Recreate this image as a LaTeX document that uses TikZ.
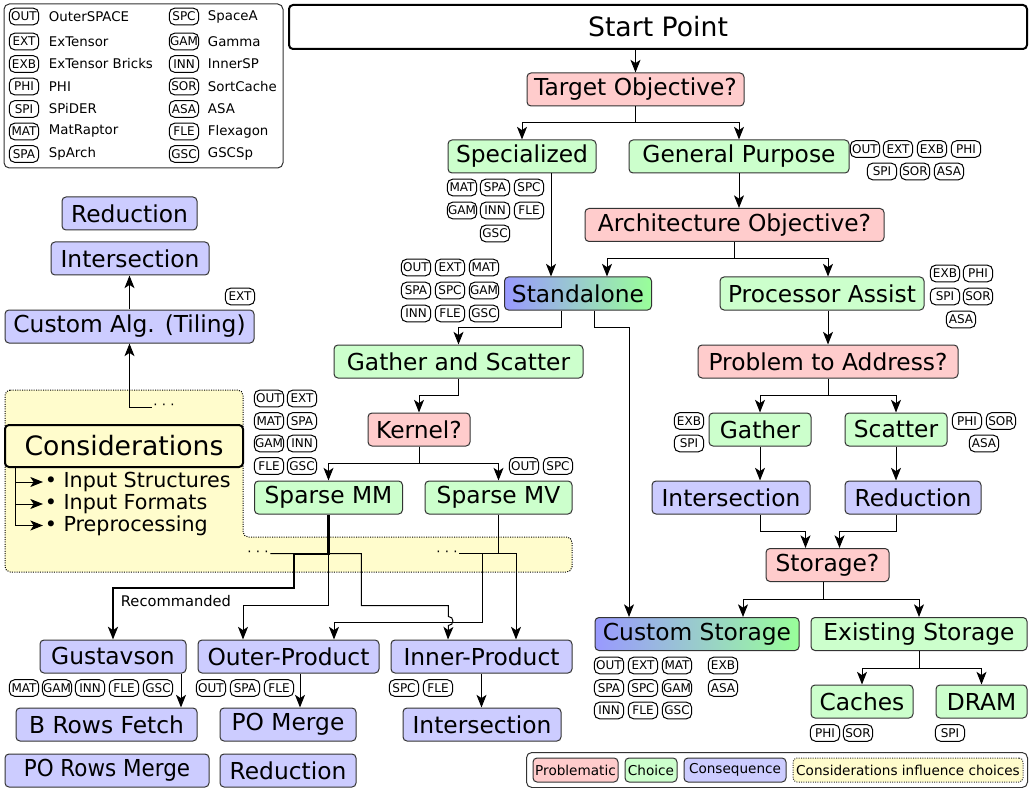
\documentclass[tikz,border=0pt]{standalone}
\usepackage{fontspec}
\setmainfont{DejaVu Sans}
\usetikzlibrary{arrows.meta, calc, positioning}

\begin{document}
\begin{tikzpicture}[x = 0.75pt, y = -0.75pt, line width = 0.75pt, >={Stealth[length=9.5pt, width=7.5pt, inset=2.5pt]},
    caja/.style = {draw = black!80, rounded corners = 3pt, minimum height = 24.75pt, inner xsep = 3pt, font = \fontsize{17.5}{20}\selectfont},
    prob/.style = {caja, fill = red!20},
    elec/.style = {caja, fill = green!20},
    cons/.style = {caja, fill = blue!20},
    mixta/.style = {caja, left color = blue!40, right color = green!40},
    etiq/.style = {draw = black, rounded corners = 4pt, minimum width = 22pt, minimum height = 12.5pt, inner sep = 0.3pt, font = \fontsize{9}{9}\selectfont},
    leyenda/.style = {draw = black!80, rounded corners = 3pt, minimum height = 18pt, inner xsep = 1pt, font = \fontsize{10.2}{12}\selectfont},
    puntos/.style = {inner sep = 1pt, font = \fontsize{10}{10}\selectfont}]
    \useasboundingbox (0,0) rectangle (1029,788);

    % Zona amarilla de las consideraciones (va al fondo).
    \draw[densely dotted, fill = yellow!20, rounded corners = 4pt] (5,390) -- (243,390) -- (243,537) -- (572,537) -- (572,572) -- (5,572) -- cycle;

    % Leyenda de arquitecturas:
    \draw[draw = black!80, rounded corners = 4pt] (4,4) rectangle (283,168);
    \node[etiq] (kOUT) at (24,16.5) {OUT};
    \node[anchor = west, font = \fontsize{10}{12}\selectfont] (nOUT) at (44,16.5) {OuterSPACE};
    \node[etiq] (kEXT) at (24,41.5) {EXT};
    \node[anchor = west, font = \fontsize{10}{12}\selectfont] (nEXT) at (44,41.5) {ExTensor};
    \node[etiq] (kEXB) at (24,64) {EXB};
    \node[anchor = west, font = \fontsize{10}{12}\selectfont] (nEXB) at (44,64) {ExTensor Bricks};
    \node[etiq] (kPHI) at (24,86.5) {PHI};
    \node[anchor = west, font = \fontsize{10}{12}\selectfont] (nPHI) at (44,86.5) {PHI};
    \node[etiq] (kSPI) at (24,109) {SPI};
    \node[anchor = west, font = \fontsize{10}{12}\selectfont] (nSPI) at (44,109) {SPiDER};
    \node[etiq] (kMAT) at (24,131.5) {MAT};
    \node[anchor = west, font = \fontsize{10}{12}\selectfont] (nMAT) at (44,131.5) {MatRaptor};
    \node[etiq] (kSPA) at (24,154) {SPA};
    \node[anchor = west, font = \fontsize{10}{12}\selectfont] (nSPA) at (44,154) {SpArch};
    \node[etiq] (kSPC) at (184,16.5) {SPC};
    \node[anchor = west, font = \fontsize{10}{12}\selectfont] (nSPC) at (203,16.5) {SpaceA};
    \node[etiq] (kGAM) at (184,41.5) {GAM};
    \node[anchor = west, font = \fontsize{10}{12}\selectfont] (nGAM) at (203,41.5) {Gamma};
    \node[etiq] (kINN) at (184,64) {INN};
    \node[anchor = west, font = \fontsize{10}{12}\selectfont] (nINN) at (203,64) {InnerSP};
    \node[etiq] (kSOR) at (184,86.5) {SOR};
    \node[anchor = west, font = \fontsize{10}{12}\selectfont] (nSOR) at (203,86.5) {SortCache};
    \node[etiq] (kASA) at (184,109) {ASA};
    \node[anchor = west, font = \fontsize{10}{12}\selectfont] (nASA) at (203,109) {ASA};
    \node[etiq] (kFLE) at (184,131.5) {FLE};
    \node[anchor = west, font = \fontsize{10}{12}\selectfont] (nFLE) at (203,131.5) {Flexagon};
    \node[etiq] (kGSC) at (184,154) {GSC};
    \node[anchor = west, font = \fontsize{10}{12}\selectfont] (nGSC) at (203,154) {GSCSp};

    % Nodos principales del arbol:
    \node[caja, draw = black, line width = 1.5pt, fill = white, minimum width = 553.5pt, minimum height = 33pt, font = \fontsize{20}{24}\selectfont] (start) at (658,27) {Start Point};
    \node[prob, minimum width = 162.75pt] (target) at (635.5,89.5) {Target Objective?};
    \node[elec, minimum width = 111pt] (spec) at (522,156.5) {Specialized};
    \node[elec, minimum width = 165pt] (general) at (739,156.5) {General Purpose};
    \node[prob, minimum width = 224.25pt] (archobj) at (734.5,225) {Architecture Objective?};
    \node[mixta, minimum width = 110.25pt] (stand) at (578,293.5) {Standalone};
    \node[elec, minimum width = 153pt] (procas) at (822,293.5) {Processor Assist};
    \node[elec, minimum width = 186.75pt] (gathsc) at (458.5,361.5) {Gather and Scatter};
    \node[prob, minimum width = 195pt] (problem) at (828,361.5) {Problem to Address?};
    \node[prob, minimum width = 76.5pt] (kernel) at (419,429.5) {Kernel?};
    \node[elec, minimum width = 76.5pt] (gather) at (760,429.5) {Gather};
    \node[elec, minimum width = 76.5pt] (scatter) at (896,429.5) {Scatter};
    \node[elec, minimum width = 111pt] (smm) at (328.5,497.5) {Sparse MM};
    \node[elec, minimum width = 110.25pt] (smv) at (498.5,497.5) {Sparse MV};
    \node[cons, minimum width = 118.5pt] (interR) at (731,497.5) {Intersection};
    \node[cons, minimum width = 102pt] (reducR) at (913,497.5) {Reduction};
    \node[prob, minimum width = 92.25pt] (storage) at (827.5,565) {Storage?};
    \node[mixta, minimum width = 153pt] (custstor) at (697,634) {Custom Storage};
    \node[elec, minimum width = 162pt] (existstor) at (919,634) {Existing Storage};
    \node[elec, minimum width = 76.5pt] (caches) at (862,701.5) {Caches};
    \node[elec, minimum width = 68.25pt] (dram) at (981.5,701.5) {DRAM};

    % Consecuencias del lado izquierdo y de abajo.
    \node[cons, minimum width = 101.25pt] (reducL) at (129.5,213.5) {Reduction};
    \node[cons, minimum width = 118.5pt] (interL) at (130,258.5) {Intersection};
    \node[cons, minimum width = 186.75pt] (customalg) at (129.5,326.5) {Custom Alg. (Tiling)};
    \node[cons, minimum width = 109.5pt] (gustav) at (113,656.5) {Gustavson};
    \node[cons, minimum width = 135.75pt] (outerp) at (288.5,656.5) {Outer-Product};
    \node[cons, minimum width = 135.75pt] (innerp) at (481.5,656.5) {Inner-Product};
    \node[cons, minimum width = 135.75pt] (browsf) at (106.5,724.5) {B Rows Fetch};
    \node[cons, minimum width = 102pt] (pomerge) at (288,724.5) {PO Merge};
    \node[cons, minimum width = 118.5pt] (interB) at (482,724.5) {Intersection};
    \node[cons, minimum width = 153pt] (porows) at (107,770.5) {\scalebox{0.92}[1]{PO Rows Merge}};
    \node[cons, minimum width = 102pt] (reducB) at (288,770.5) {Reduction};

    % Consideraciones:
    \node[caja, draw = black, line width = 1.5pt, fill = yellow!20, minimum width = 178.5pt, minimum height = 31.5pt, font = \fontsize{20}{24}\selectfont] (consid) at (124,446) {Considerations};
    \node[anchor = west, inner xsep = 1pt, font = \fontsize{15.5}{17}\selectfont] (itemA) at (43,482) {•~Input Structures};
    \node[anchor = west, inner xsep = 1pt, font = \fontsize{15.5}{17}\selectfont] (itemB) at (43,504) {•~Input Formats};
    \node[anchor = west, inner xsep = 1pt, font = \fontsize{15.5}{17}\selectfont] (itemC) at (43,525.5) {•~Preprocessing};
    \draw[->] ($(consid.south west)+(11,0)$) |- (itemA.west);
    \draw[->] ($(consid.south west)+(11,0)$) |- (itemB.west);
    \draw[->] ($(consid.south west)+(11,0)$) |- (itemC.west);
    \node[puntos] (dotsA) at (164,407) {· · ·};
    \node[puntos] (dotsB) at (258,553.5) {· · ·};
    \node[puntos] (dotsC) at (447,553.5) {· · ·};

    % Etiquetas de cada opcion.
    \node[etiq] (gpOUT) at (865,149) {OUT};
    \node[etiq] (gpEXT) at (898,149) {EXT};
    \node[etiq] (gpEXB) at (932,149) {EXB};
    \node[etiq] (gpPHI) at (966,149) {PHI};
    \node[etiq] (gpSPI) at (882,171.5) {SPI};
    \node[etiq] (gpSOR) at (915,171.5) {SOR};
    \node[etiq] (gpASA) at (949,171.5) {ASA};

    \node[etiq] (spMAT) at (462,187.5) {MAT};
    \node[etiq] (spSPA) at (495,187.5) {SPA};
    \node[etiq] (spSPC) at (529,187.5) {SPC};
    \node[etiq] (spGAM) at (462,210.5) {GAM};
    \node[etiq] (spINN) at (495,210.5) {INN};
    \node[etiq] (spFLE) at (529,210.5) {FLE};
    \node[etiq] (spGSC) at (495,233.5) {GSC};

    \node[etiq] (stOUT) at (416,267.5) {OUT};
    \node[etiq] (stEXT) at (450,267.5) {EXT};
    \node[etiq] (stMAT) at (484,267.5) {MAT};
    \node[etiq] (stSPA) at (416,290.5) {SPA};
    \node[etiq] (stSPC) at (450,290.5) {SPC};
    \node[etiq] (stGAM) at (484,290.5) {GAM};
    \node[etiq] (stINN) at (416,313.5) {INN};
    \node[etiq] (stFLE) at (450,313.5) {FLE};
    \node[etiq] (stGSC) at (484,313.5) {GSC};

    \node[etiq] (paEXB) at (945,273.5) {EXB};
    \node[etiq] (paPHI) at (978,273.5) {PHI};
    \node[etiq] (paSPI) at (945,296.5) {SPI};
    \node[etiq] (paSOR) at (978,296.5) {SOR};
    \node[etiq] (paASA) at (961,319.5) {ASA};

    \node[etiq] (knOUT) at (269,398.5) {OUT};
    \node[etiq] (knEXT) at (302,398.5) {EXT};
    \node[etiq] (knMAT) at (269,421) {MAT};
    \node[etiq] (knSPA) at (302,421) {SPA};
    \node[etiq] (knGAM) at (269,443.5) {GAM};
    \node[etiq] (knINN) at (302,443.5) {INN};
    \node[etiq] (knFLE) at (269,466) {FLE};
    \node[etiq] (knGSC) at (302,466) {GSC};
    \node[etiq] (mvOUT) at (524,466) {OUT};
    \node[etiq] (mvSPC) at (558,466) {SPC};

    \node[etiq] (gaEXB) at (689,421) {EXB};
    \node[etiq] (gaSPI) at (689,443.5) {SPI};
    \node[etiq] (scPHI) at (967,421) {PHI};
    \node[etiq] (scSOR) at (1001,421) {SOR};
    \node[etiq] (scASA) at (984,443.5) {ASA};

    \node[etiq] (csOUT) at (609,665.5) {OUT};
    \node[etiq] (csEXT) at (643,665.5) {EXT};
    \node[etiq] (csMAT) at (677,665.5) {MAT};
    \node[etiq] (csEXB) at (723,665.5) {EXB};
    \node[etiq] (csSPA) at (609,688) {SPA};
    \node[etiq] (csSPC) at (643,688) {SPC};
    \node[etiq] (csGAM) at (677,688) {GAM};
    \node[etiq] (csASA) at (723,688) {ASA};
    \node[etiq] (csINN) at (609,710.5) {INN};
    \node[etiq] (csFLE) at (643,710.5) {FLE};
    \node[etiq] (csGSC) at (677,710.5) {GSC};
    \node[etiq] (caPHI) at (825,733) {PHI};
    \node[etiq] (caSOR) at (858,733) {SOR};
    \node[etiq] (drSPI) at (950,733) {SPI};

    \node[etiq] (alEXT) at (240,296.5) {EXT};
    \node[etiq] (guMAT) at (24,688) {MAT};
    \node[etiq] (guGAM) at (57,688) {GAM};
    \node[etiq] (guINN) at (90,688) {INN};
    \node[etiq] (guFLE) at (124,688) {FLE};
    \node[etiq] (guGSC) at (158,688) {GSC};
    \node[etiq] (opOUT) at (211,688) {OUT};
    \node[etiq] (opSPA) at (245,688) {SPA};
    \node[etiq] (opFLE) at (279,688) {FLE};
    \node[etiq] (ipSPC) at (404,688) {SPC};
    \node[etiq] (ipFLE) at (438,688) {FLE};

    % Conexiones de arriba hacia abajo.
    \draw[->] (start.south -| target.north) -- (target.north);
    \draw[->] (target.south) -- ++(0,16) -| (spec.north);
    \draw[->] (target.south) -- ++(0,16) -| (general.north);
    \draw[->] (general.south) -- (general.south |- archobj.north);
    \coordinate (sA) at ($(stand.north)+(-27,0)$);
    \draw[->] (spec.south -| sA) -- (sA);
    \draw[->] (archobj.south) -- ++(0,17) -| ($(stand.north)+(29,0)$);
    \draw[->] (archobj.south) -- ++(0,17) -| (procas.north -| problem.north);
    \draw[->] (procas.south -| problem.north) -- (problem.north);
    \draw[->] ($(stand.south)+(-16.5,0)$) -- ++(0,16.5) -| (gathsc.north);
    \draw[->] ($(stand.south)+(16,0)$) -- ++(0,16.5) -| ($(custstor.north)+(-68,0)$);
    \draw[->] (gathsc.south) -- ++(0,17) -| (kernel.north);
    \draw[->] (kernel.south) -- ++(0,17) -| (smm.north);
    \draw[->] (kernel.south) -- ++(0,17) -| (smv.north);
    \draw[->] (problem.south) -- ++(0,17) -| (gather.north);
    \draw[->] (problem.south) -- ++(0,17) -| (scatter.north);
    \draw[->] (gather.south) -- (gather.south |- interR.north);
    \draw[->] (scatter.south) -- (scatter.south |- reducR.north);
    \draw[->] (interR.south -| gather.south) -- ++(0,17) -| ($(storage.north)+(-22,0)$);
    \draw[->] (reducR.south -| scatter.south) -- ++(0,17) -| ($(storage.north)+(12,0)$);
    \draw[->] ($(storage.south)+(-4.5,0)$) -- ++(0,17) -| ($(custstor.north)+(46,0)$);
    \draw[->] ($(storage.south)+(-4.5,0)$) -- ++(0,17) -| (existstor.north);
    \draw[->] (existstor.south) -- ++(0,17) -| (caches.north);
    \draw[->] (existstor.south) -- ++(0,17) -| (dram.north);

    % Lado izquierdo:
    \draw[->] (dotsA.west) -| (customalg.south);
    \draw[->] (customalg.north) -- (customalg.north |- interL.south);

    % Kernels hacia los algoritmos.
    \draw[->] (smm.south) -- ++(0,91) -| ($(outerp.north)+(-45.5,0)$);
    \draw[->] (dotsB.east) -- ++(91,0) -- ++(0,52) -- ++(87,0) -- ++(0,11) .. controls +(6,0) and +(6,0) .. ++(0,9) -- ($(innerp.north)+(-33.5,0)$);
    \draw (smv.south) -- ++(0,39.5);
    \draw[->] (dotsC.east) -| ($(innerp.north)+(34.5,0)$);
    \draw[->] ($(smv.south)+(-16.5,39.5)$) |- ++(-148,68) -- ($(outerp.north)+(45.5,0)$);
    \draw[->, line width = 2pt] (smm.south) -- ++(0,39.5) -| ++(-34.5,34) -| (gustav.north);
    \node[anchor = west, font = \fontsize{11}{13}\selectfont] (recom) at (116,601) {Recommanded};

    \coordinate (gA) at ($(gustav.south)+(68,0)$);
    \draw[->] (gA) -- (gA |- browsf.north);
    \coordinate (oA) at ($(outerp.south)+(11.5,0)$);
    \draw[->] (oA) -- (oA |- pomerge.north);
    \draw[->] (innerp.south) -- (innerp.south |- interB.north);

    % Leyenda de colores.
    \node[leyenda, fill = red!20, minimum width = 63.75pt] (lgProb) at (575.5,770) {Problematic};
    \node[leyenda, fill = green!20, minimum width = 39pt, right = 4.5pt of lgProb] (lgElec) {Choice};
    \node[leyenda, fill = blue!20, minimum width = 76.5pt, right = 4.5pt of lgElec] (lgCons) {Consequence};
    \node[leyenda, fill = yellow!20, densely dotted, minimum width = 172.5pt, right = 4.5pt of lgCons] (lgConsid) {Considerations influence choices};
    \draw[draw = black!80, rounded corners = 4pt] ($(lgProb.north west)+(-6,-5)$) rectangle ($(lgConsid.south east)+(4,5)$);
\end{tikzpicture}
\end{document}
